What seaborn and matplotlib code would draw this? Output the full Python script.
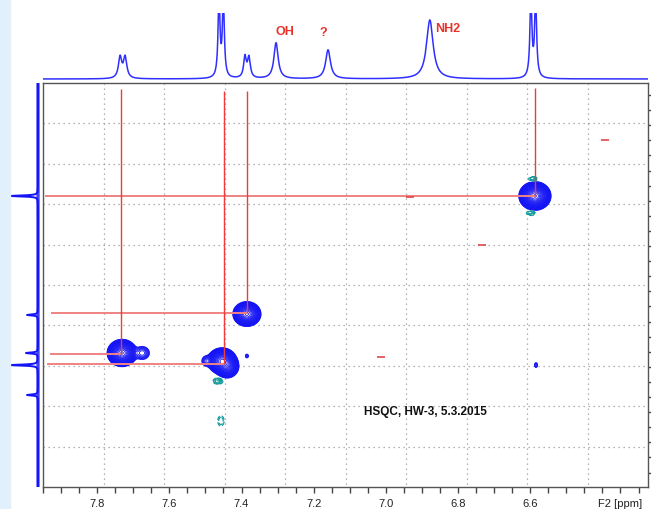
import numpy as np
import matplotlib
matplotlib.use("Agg")
import matplotlib.pyplot as plt
import matplotlib.transforms as mtrans
from matplotlib.patches import Rectangle
import seaborn as sns

# 1H projection on top: peak shifts (ppm), heights, half widths
h_shift = [7.736, 7.722, 7.462, 7.450, 7.390, 7.379, 7.304, 7.160, 6.878, 6.598, 6.585]
h_height = [21, 21, 80, 78, 21, 20, 36, 29, 59, 80, 78]
h_hwhm = [0.0055, 0.0055, 0.0032, 0.0032, 0.0045, 0.0045, 0.007, 0.008, 0.011, 0.0033, 0.0033]

h_labels = ["OH", "?", "NH2"]
h_label_x = [7.279, 7.174, 6.828]
h_label_y = [48, 47, 51]

# 13C projection on the left
c_shift = [116.68, 124.56, 127.08, 127.88, 129.86]
c_height = [27, 11, 12, 28, 11]

# HSQC cross peaks (F2, F1, intensity, widths); negative = teal contours
xp_f2 = [6.587, 7.385, 7.731, 7.675, 7.454, 7.440, 7.498, 7.385, 6.584,
         7.465, 7.457, 6.592, 6.598]
xp_f1 = [116.68, 124.50, 127.08, 127.08, 127.61, 127.98, 127.61, 127.28, 127.88,
         128.94, 131.58, 115.56, 117.81]
xp_amp = [120, 60, 100, 4, 100, 40, 3, 1.8, 1.8, -8, -2.5, -5, -5]
xp_w2 = [0.0145, 0.0137, 0.0137, 0.012, 0.0135, 0.012, 0.008, 0.004, 0.004,
         0.0069, 0.0065, 0.007, 0.007]
xp_w1 = [0.31, 0.29, 0.30, 0.26, 0.29, 0.28, 0.22, 0.12, 0.15, 0.10, 0.25, 0.09, 0.09]

# assignment lines
pk_f2 = [6.587, 7.385, 7.733, 7.448]
pk_f1 = [116.68, 124.44, 127.15, 127.81]
hl_start = [7.944, 7.927, 7.930, 7.938]
vl_start = [109.5, 109.73, 109.6, 109.73]

# small red artefacts
art_f2 = [6.393, 6.933, 7.013, 6.734]
art_f1 = [112.97, 116.75, 127.35, 119.93]

xlim = (7.9496, 6.2737)
ylim = (135.955, 109.2)

sns.set_style("white")
plt.rcParams['font.family'] = ['Liberation Sans', 'DejaVu Sans']

W, H = 651, 510
fig = plt.figure(figsize=(W / 100, H / 100), dpi=100)


def box(x0, y0, x1, y1):
    return [x0 / W, 1 - y1 / H, (x1 - x0) / W, (y1 - y0) / H]


fig.patches.append(Rectangle((0, 0), 10 / W, 1, transform=fig.transFigure,
                             color='#e1f0fa', zorder=0))

ax = fig.add_axes(box(43, 84, 648, 488))
ax_top = fig.add_axes(box(43, 14, 648, 84))
ax_left = fig.add_axes(box(2, 84, 43, 488))

blue = '#1414f5'
teal = '#169c9c'

# 2D contours
f2 = np.linspace(6.25, 7.97, 1000)
f1 = np.linspace(109.0, 136.2, 800)
F2, F1 = np.meshgrid(f2, f1)
Z = np.zeros_like(F2)
for x0, y0, a, sx, sy in zip(xp_f2, xp_f1, xp_amp, xp_w2, xp_w1):
    Z += a * np.exp(-0.5 * ((F2 - x0) / sx) ** 2 - 0.5 * ((F1 - y0) / sy) ** 2)

ax.contour(F2, F1, Z, levels=np.geomspace(1, 115, 28), colors=blue,
           linewidths=0.6, zorder=2)
ax.contour(F2, F1, Z, levels=-np.geomspace(1, 10, 6)[::-1], colors=teal,
           linewidths=0.9, zorder=2)

# grid: 10 equal divisions
gx = np.linspace(xlim[0], xlim[1], 11)[1:-1]
gy = np.linspace(ylim[1], ylim[0], 11)[1:-1]
ax.vlines(gx, ylim[1], ylim[0], colors='#9c9c9c', linestyles=(0, (1, 3)),
          linewidth=0.9, zorder=1)
ax.hlines(gy, xlim[0], xlim[1], colors='#9c9c9c', linestyles=(0, (1, 3)),
          linewidth=0.9, zorder=1)

# assignment lines
ax.hlines(pk_f1, hl_start, pk_f2, colors='#f08282', linewidth=1.4, zorder=3)
ax.vlines(pk_f2, vl_start, pk_f1, colors='#ee3c3c', linewidth=1.0, zorder=3)

sns.scatterplot(x=art_f2, y=art_f1, marker='_', s=30, color='#e04848',
                linewidth=1.2, ax=ax, zorder=3)

ax.text(6.891, 130.92, "HSQC, HW-3, 5.3.2015", ha='center', va='center',
        fontsize=8.5, fontweight='bold', color='#111111')

ax.set_xlim(*xlim)
ax.set_ylim(*ylim)
ax.set_xticks([7.8, 7.6, 7.4, 7.2, 7.0, 6.8, 6.6])
ax.set_xticklabels(["7.8", "7.6", "7.4", "7.2", "7.0", "6.8", "6.6"])
ax.set_xticks(np.arange(6.3, 7.951, 0.05), minor=True)
ax.set_yticks(np.arange(110, 136, 1))
ax.tick_params(axis='x', which='both', direction='out', length=4, width=1,
               color='#444444', labelsize=8, labelcolor='#222222', pad=4,
               bottom=True)
ax.tick_params(axis='y', which='both', direction='out', length=4, width=1,
               color='#444444', left=False, labelleft=False, right=True,
               labelright=False)
for s in ax.spines.values():
    s.set_color('#555555')
    s.set_linewidth(1.0)
ax.set_xlabel("")
ax.set_ylabel("")

trans = mtrans.blended_transform_factory(ax.transData, ax.transAxes)
ax.text(6.351, -0.040, "F2 [ppm]", transform=trans, ha='center', va='center',
        fontsize=8, color='#222222')

# top 1H trace
hx = np.linspace(xlim[1], xlim[0], 4000)
hy = np.zeros_like(hx)
for x0, h, w in zip(h_shift, h_height, h_hwhm):
    hy += h * w ** 2 / ((hx - x0) ** 2 + w ** 2)
sns.lineplot(x=hx, y=hy, sort=False, estimator=None, color='#2f2fff',
             linewidth=1.1, ax=ax_top)
for lab, lx, ly in zip(h_labels, h_label_x, h_label_y):
    ax_top.text(lx, ly, lab, ha='center', va='center', fontsize=9,
                fontweight='bold', color='#e8322a')
ax_top.set_xlim(*xlim)
ax_top.set_ylim(-4, 66)
ax_top.axis('off')

# left 13C trace
cy = np.linspace(ylim[1], ylim[0], 5000)
cx = np.zeros_like(cy)
for y0, h in zip(c_shift, c_height):
    cx += h * 0.04 ** 2 / ((cy - y0) ** 2 + 0.04 ** 2)
ax_left.plot(np.zeros_like(cy), cy, color='#1414f5', linewidth=2.4, alpha=0.8)
ax_left.plot(cx, cy, color='#1414f5', linewidth=1.4)
ax_left.set_xlim(36, -5)
ax_left.set_ylim(*ylim)
ax_left.axis('off')

fig.savefig("out.png", dpi=100)
